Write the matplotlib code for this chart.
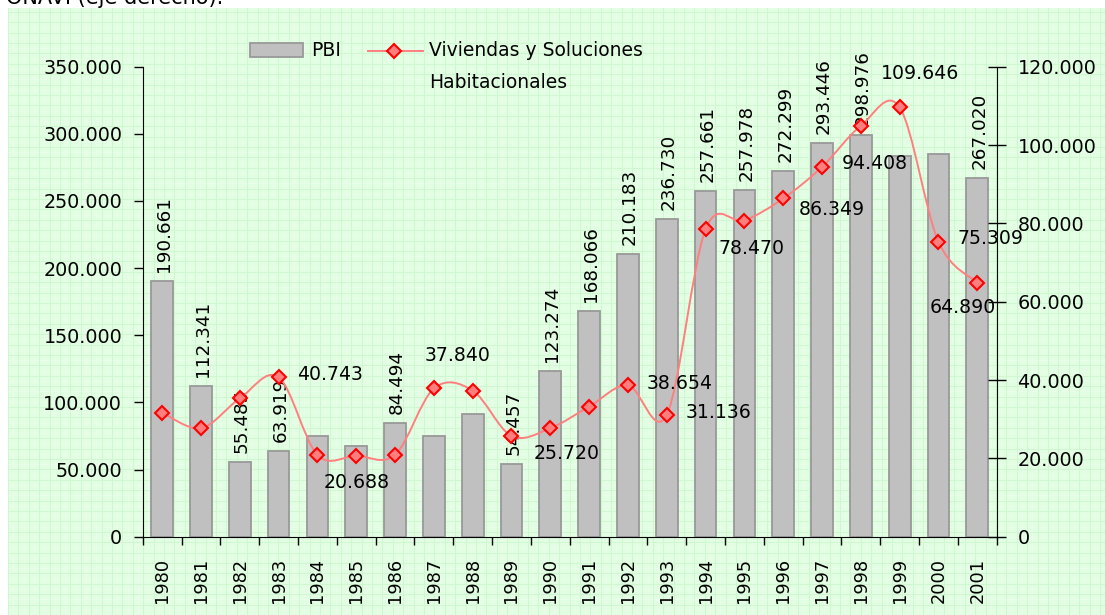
import numpy as np
import matplotlib.pyplot as plt
from matplotlib.path import Path
from matplotlib.patches import PathPatch, Rectangle
from matplotlib.lines import Line2D
from matplotlib.ticker import FuncFormatter

# datos
years = [str(y) for y in range(1980, 2002)]
pbi = [190661, 112341, 55485, 63919, 75000, 67500, 84494, 75000, 91200, 54457,
       123274, 168066, 210183, 236730, 257661, 257978, 272299, 293446, 298976,
       283500, 284800, 267020]
pbi_labels = ["190.661", "112.341", "55.485", "63.919", None, None, "84.494", None,
              None, "54.457", "123.274", "168.066", "210.183", "236.730", "257.661",
              "257.978", "272.299", "293.446", "298.976", None, None, "267.020"]
viviendas = [31700, 27700, 35300, 40743, 20900, 20688, 20900, 37840, 37300, 25720,
             27700, 33200, 38654, 31136, 78470, 80700, 86349, 94408, 104900,
             109646, 75309, 64890]
viv_labels = [None, None, None, "40.743", None, "20.688", None, "37.840", None, "25.720",
              None, None, "38.654", "31.136", "78.470", None, "86.349", "94.408", None,
              "109.646", "75.309", "64.890"]

# desplazamiento de las etiquetas de la linea (pixeles)
viv_offsets = {3: (51, 3), 5: (0, -27), 7: (24, 33), 9: (55, -18), 12: (52, 2),
               13: (52, 2), 14: (46, -19), 16: (49, -11), 17: (53, 3), 19: (20, 34),
               20: (52, 3), 21: (-15, -25)}

W, H = 1105, 615
fig = plt.figure(figsize=(W / 100, H / 100), dpi=100, facecolor="white")

# fondo verde cuadriculado
bg = fig.add_axes([8 / W, 0, 1 - 8 / W, 1 - 8 / H])
bg.set_xlim(0, W - 8)
bg.set_ylim(0, H - 8)
bg.set_facecolor("#e2fee2")
step = 10.4
bg.vlines(np.arange(step / 2, W, step), 0, H, color="#ebfdeb", lw=0.5)
bg.hlines(np.arange(step / 2, H, step), 0, W, color="#ebfdeb", lw=0.5)
bg.vlines(np.arange(0, W, step), 0, H, color="#d0f8d0", lw=0.7)
bg.hlines(np.arange(0, H, step), 0, W, color="#d0f8d0", lw=0.7)
for s in bg.spines.values():
    s.set_visible(False)
bg.set_xticks([])
bg.set_yticks([])

fig.text(223 / W, 1 - 4 / H, "FONAVI (eje derecho).", ha="right", va="baseline",
         fontsize=15)

ax = fig.add_axes([142.7 / W, 1 - 536.7 / H, (996.7 - 142.7) / W, (536.7 - 66.7) / H])
ax.patch.set_alpha(0)
x = np.arange(len(years))
ax.bar(x, pbi, width=0.56, color="#c0c0c0", edgecolor="#999999", linewidth=1.3)
ax.set_xlim(-0.5, len(years) - 0.5)
ax.set_ylim(0, 350000)

for i, lab in enumerate(pbi_labels):
    if lab:
        ax.annotate(lab, (x[i], pbi[i]), xytext=(2, 9), textcoords="offset pixels",
                    rotation=90, ha="center", va="bottom", fontsize=13.2)

fmt = FuncFormatter(lambda v, p: "0" if v == 0 else f"{v:,.0f}".replace(",", "."))
ax.set_yticks(np.arange(0, 350001, 50000))
ax.yaxis.set_major_formatter(fmt)
ax.tick_params(axis="y", direction="out", length=6.3, width=1, pad=8.5, labelsize=13.8)
ax.set_xticks(np.arange(-0.5, len(years), 1))
ax.set_xticklabels([])
ax.set_xticks(x, minor=True)
ax.set_xticklabels(years, minor=True, rotation=90)
ax.tick_params(axis="x", which="major", direction="out", length=5.5, width=1)
ax.tick_params(axis="x", which="minor", length=0, pad=15, labelsize=12.8)
ax.spines["top"].set_visible(False)
ax.spines["right"].set_visible(False)

ax2 = ax.twinx()
ax2.set_ylim(0, 120000)
ax2.set_yticks(np.arange(0, 120001, 20000))
ax2.yaxis.set_major_formatter(fmt)
ax2.tick_params(axis="y", direction="inout", length=13, width=1, pad=8.4, labelsize=13.8)
for s in ["top", "left", "bottom"]:
    ax2.spines[s].set_visible(False)

# linea suavizada (bezier tipo catmull-rom) por los puntos
yv = np.array(viviendas, float)
n = len(x)
verts = [(x[0], yv[0])]
codes = [Path.MOVETO]
for i in range(n - 1):
    p0 = np.array([x[max(i - 1, 0)], yv[max(i - 1, 0)]])
    p1 = np.array([x[i], yv[i]])
    p2 = np.array([x[i + 1], yv[i + 1]])
    p3 = np.array([x[min(i + 2, n - 1)], yv[min(i + 2, n - 1)]])
    verts += [tuple(p1 + (p2 - p0) / 6), tuple(p2 - (p3 - p1) / 6), tuple(p2)]
    codes += [Path.CURVE4] * 3
ax2.add_patch(PathPatch(Path(verts, codes), facecolor="none", edgecolor="#ff7f7f", lw=1.4))
ax2.plot(x, viviendas, linestyle="none", marker="D", markersize=7.5,
         markerfacecolor="#ff7f7f", markeredgecolor="#ff0000", markeredgewidth=1.5)

for i, lab in enumerate(viv_labels):
    if lab:
        ax2.annotate(lab, (x[i], viviendas[i]), xytext=viv_offsets[i],
                     textcoords="offset pixels", ha="center", va="center", fontsize=13.6)

# leyenda
fig.patches.append(Rectangle((250 / W, 1 - 57.3 / H), 53 / W, 14.6 / H,
                             transform=fig.transFigure, facecolor="#c0c0c0",
                             edgecolor="#999999", lw=1.3))
fig.text(310.7 / W, 1 - 50.7 / H, "PBI", ha="left", va="center", fontsize=13.5)
fig.lines.append(Line2D([368.3 / W, 422.7 / W], [1 - 50.7 / H] * 2, transform=fig.transFigure,
                        color="#ff7f7f", lw=1.4))
fig.lines.append(Line2D([394.3 / W], [1 - 50.7 / H], transform=fig.transFigure,
                        linestyle="none", marker="D", markersize=7.5,
                        markerfacecolor="#ff7f7f", markeredgecolor="#ff0000",
                        markeredgewidth=1.5))
fig.text(429.3 / W, 1 - 50.7 / H, "Viviendas y Soluciones", ha="left", va="center",
         fontsize=13.5)
fig.text(429.3 / W, 1 - 82.7 / H, "Habitacionales", ha="left", va="center", fontsize=13.5)

fig.savefig("out.png", dpi=100, facecolor="white")
